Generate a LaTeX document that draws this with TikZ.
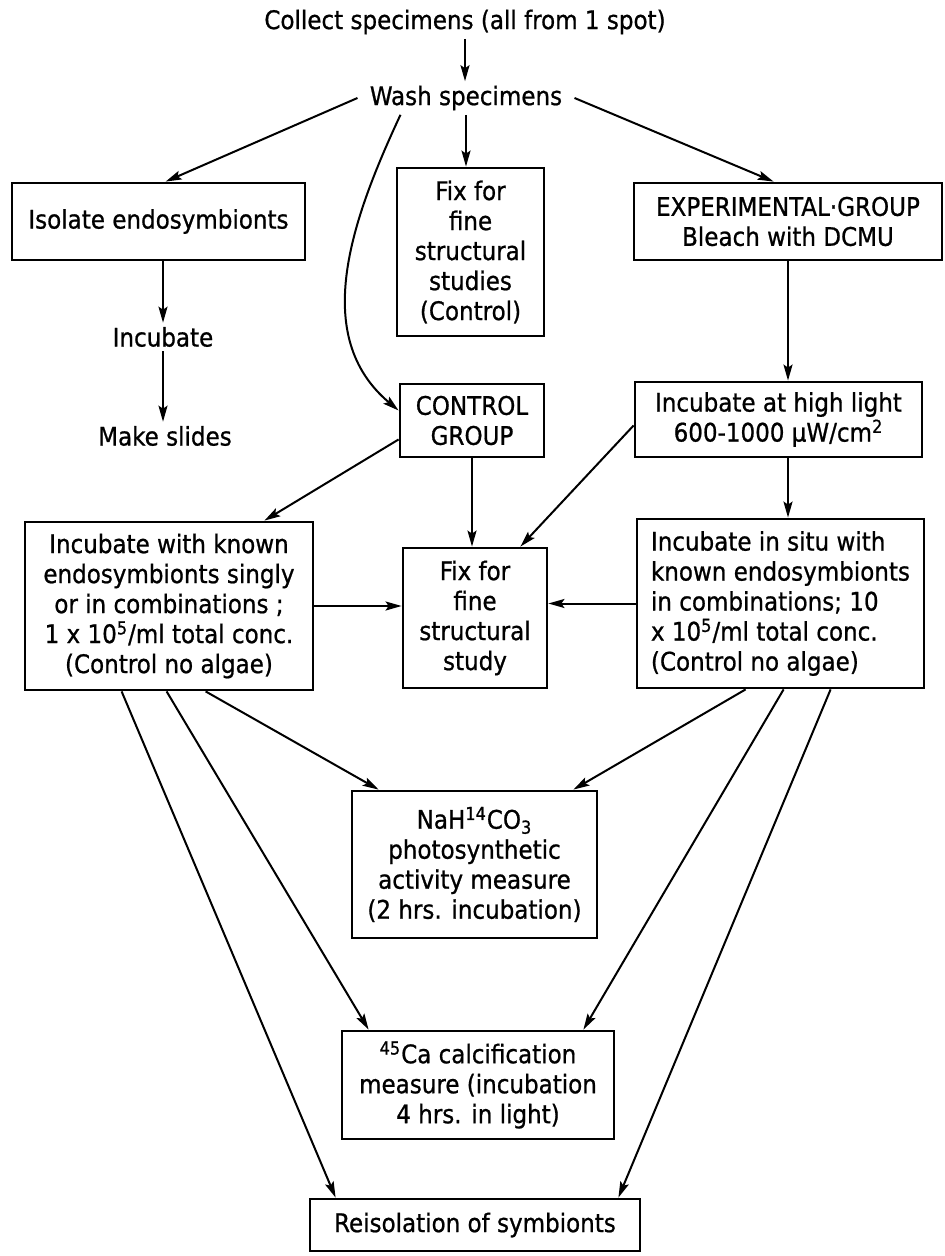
\documentclass[tikz,border=0pt]{standalone}
\usepackage{fontspec}
\setmainfont{DejaVu Sans Condensed}[FakeBold=0.8]
\usetikzlibrary{arrows.meta,calc}

\begin{document}
\begin{tikzpicture}[>={Stealth[length=8pt,width=4.5pt,inset=1.5pt]},x=0.5pt,y=0.5pt,font=\fontsize{12.8}{15}\selectfont,
    procbox/.style={draw,line width=1.4pt,align=center,inner sep=2pt},
    freetext/.style={inner xsep=6pt,inner ysep=2pt},
    every edge/.style={draw,line width=1pt}]
    \useasboundingbox (0,0) rectangle (944,-1256);

    \node[freetext] (collect) at (465,-22)  {Collect specimens (all from 1 spot)};
    \node[freetext] (wash)    at (466,-98)  {Wash specimens};
    \node[procbox,minimum width=146.5pt,minimum height=38.5pt] (isolate) at (158.5,-221.5) {Isolate endosymbionts};
    \node[procbox,minimum width=73.5pt,minimum height=84pt]    (fixA)    at (470.5,-252)   {Fix for\\fine\\structural\\studies\\(Control)};
    \node[procbox,minimum width=154pt,minimum height=38.5pt]   (exper)   at (788,-221.5)   {EXPERIMENTAL·GROUP\\Bleach with DCMU};
    \node[freetext] (incub)   at (163,-337) {Incubate};
    \node[freetext] (slides)  at (165,-436) {Make slides};
    \node[procbox,minimum width=72pt,minimum height=36.5pt]    (control) at (472,-420.5)   {CONTROL\\GROUP};
    \node[procbox,minimum width=143.5pt,minimum height=37.5pt] (highlight) at (778.5,-419.5) {Incubate at high light\\600-1000 µW/cm\textsuperscript{2}};
    \node[procbox,minimum width=144pt,minimum height=84pt]     (known)   at (169,-606)     {Incubate with known\\endosymbionts singly\\or in combinations ;\\1 x 10\textsuperscript{5}/ml total conc.\\(Control no algae)};
    \node[procbox,minimum width=72pt,minimum height=70pt]      (fixB)    at (475,-618)     {Fix for\\fine\\structural\\study};
    \node[procbox,align=left,minimum width=143.5pt,minimum height=84.5pt] (insitu) at (780.5,-603.5) {Incubate in situ with\\known endosymbionts\\in combinations; 10\\x 10\textsuperscript{5}/ml total conc.\\(Control no algae)};
    \node[procbox,minimum width=122.5pt,minimum height=73.5pt] (nah)     at (474.5,-864.5) {NaH\textsuperscript{14}CO\textsubscript{3}\\photosynthetic\\activity measure\\(2 hrs. incubation)};
    \node[procbox,minimum width=136pt,minimum height=54pt]     (calc)    at (478,-1085)    {\textsuperscript{45}Ca calcification\\measure (incubation\\4 hrs. in light)};
    \node[procbox,minimum width=165pt,minimum height=26pt]     (reiso)   at (475,-1225)    {Reisolation of symbionts};

    \path [->]
    (collect) edge (collect |- wash.north)
    (wash.west) edge ($(isolate.north west)+(155,0)$)
    (wash.south) edge (wash.south |- fixA.north)
    (wash.east) edge ($(exper.north west)+(141,0)$)
    ($(wash.south west)+(43,0)$) edge [out=-115,in=140] ($(control.west)+(0,10)$)
    (incub |- isolate.south) edge (incub)
    (incub) edge (incub |- slides.north)
    (exper.south) edge (exper.south |- highlight.north)
    (highlight.south -| exper.south) edge (insitu.north -| exper.south)
    ($(control.west)!0.5!(control.south west)$) edge ($(known.north east)+(-50,0)$)
    (control) edge (control |- fixB.north)
    ($(highlight.west)+(0,-6)$) edge ($(fixB.north east)+(-28,0)$)
    (known.east) edge (known.east -| fixB.west)
    (insitu.west) edge (insitu.west -| fixB.east)
    ($(known.south west)+(182,0)$) edge ($(nah.north west)+(28,0)$)
    ($(insitu.south west)+(110,0)$) edge ($(nah.north east)+(-25,0)$)
    ($(known.south west)+(143,0)$) edge ($(calc.north west)+(28,0)$)
    ($(known.south west)+(98,0)$) edge ($(reiso.north west)+(27,0)$)
    ($(insitu.south west)+(148,0)$) edge ($(calc.north east)+(-32,0)$)
    ($(insitu.south west)+(195,0)$) edge ($(reiso.north east)+(-23,0)$);
\end{tikzpicture}
\end{document}
